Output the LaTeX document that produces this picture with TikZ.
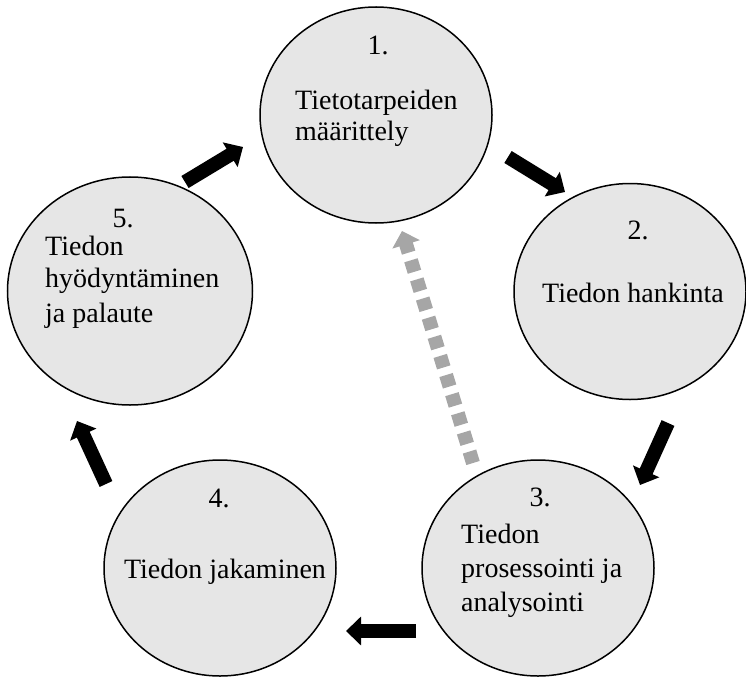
\documentclass[tikz,border=0pt]{standalone}
\usepackage{fontspec}
\setmainfont{Liberation Serif}
\usetikzlibrary{shapes.geometric,arrows.meta}
\definecolor{circfill}{RGB}{230,230,230}
\definecolor{dashgray}{RGB}{166,166,166}
\begin{document}
\begin{tikzpicture}[x=1pt,y=-1pt,
  phase/.style={ellipse, draw=black, line width=1.5pt, fill=circfill, inner sep=0pt,
    minimum width=232pt, minimum height=216pt},
  lbl/.style={inner sep=0pt, font=\fontsize{28}{31}\selectfont},
  flow/.style={draw=black, line width=14pt, -{Triangle[width=28pt,length=15pt]}},
  back/.style={draw=dashgray, line width=14pt, dash pattern=on 12pt off 8pt,
    -{Triangle[width=28pt,length=14pt]}}]
\useasboundingbox (0,0) rectangle (746,679);

% phases
\node[phase] (c1) at (376,115) {};
\node[phase] (c2) at (630,291.5) {};
\node[phase] (c3) at (538,568) {};
\node[phase] (c4) at (220,568) {};
\node[phase, minimum width=245pt, minimum height=228pt] (c5) at (130,291) {};

% texts
\node[lbl, anchor=base] (n1) at (378,55) {1.};
\node[lbl, anchor=base west] (t1a) at (295,110) {Tietotarpeiden};
\node[lbl, anchor=base west] (t1b) at (295,141) {määrittely};

\node[lbl, anchor=base] (n2) at (638,239) {2.};
\node[lbl, anchor=base] (t2) at (633,302) {Tiedon hankinta};

\node[lbl, anchor=base] (n3) at (540,506) {3.};
\node[lbl, anchor=base west] (t3a) at (461,543) {Tiedon};
\node[lbl, anchor=base west] (t3b) at (461,577) {prosessointi ja};
\node[lbl, anchor=base west] (t3c) at (461,611) {analysointi};

\node[lbl, anchor=base] (n4) at (219,507) {4.};
\node[lbl, anchor=base] (t4) at (225,578) {Tiedon jakaminen};

\node[lbl, anchor=base] (n5) at (123,227) {5.};
\node[lbl, anchor=base west] (t5a) at (45,255) {Tiedon};
\node[lbl, anchor=base west] (t5b) at (45,287) {hyödyntäminen};
\node[lbl, anchor=base west] (t5c) at (45,322) {ja palaute};

% arrow ends
\coordinate (a12s) at (508,157);
\coordinate (a12e) at (565,192);
\coordinate (a23s) at (668,423);
\coordinate (a23e) at (640,485);
\coordinate (a34s) at (416,631);
\coordinate (a34e) at (346,631);
\coordinate (a45s) at (106,484);
\coordinate (a45e) at (77,421);
\coordinate (a51s) at (185,182);
\coordinate (a51e) at (243,147);
\coordinate (a31s) at (473,463);
\coordinate (a31e) at (402,231);

\draw[flow] (a12s) -- (a12e);
\draw[flow] (a23s) -- (a23e);
\draw[flow] (a34s) -- (a34e);
\draw[flow] (a45s) -- (a45e);
\draw[flow] (a51s) -- (a51e);
\draw[back] (a31s) -- (a31e);
\end{tikzpicture}
\end{document}
